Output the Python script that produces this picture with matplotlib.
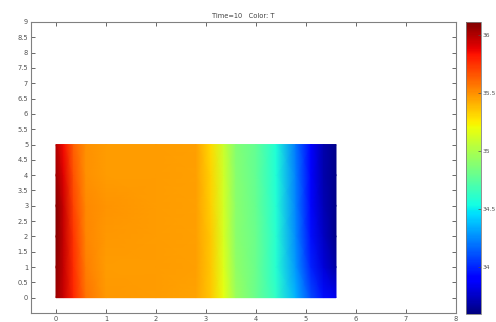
import numpy as np
import matplotlib
matplotlib.use("Agg")
import matplotlib.pyplot as plt

# Field data (temperature T)
x_nodes = [0.0, 0.15, 0.35, 0.6, 1.0, 2.0, 2.8, 3.1, 3.35, 3.6, 4.0, 4.4, 4.8, 5.1, 5.35, 5.6]
y_nodes = [0.0, 1.0, 2.0, 3.0, 4.0, 5.0]
T_rows = [
    [36.05, 35.95, 35.78, 35.58, 35.48, 35.47, 35.45, 35.35, 35.18, 34.95, 34.80, 34.62, 34.35, 34.10, 33.95, 33.85],
    [36.08, 35.96, 35.76, 35.55, 35.47, 35.47, 35.46, 35.35, 35.15, 34.92, 34.80, 34.60, 34.28, 34.00, 33.80, 33.68],
    [36.10, 35.96, 35.74, 35.53, 35.48, 35.47, 35.46, 35.35, 35.13, 34.90, 34.80, 34.60, 34.25, 33.95, 33.75, 33.62],
    [36.10, 35.95, 35.70, 35.52, 35.49, 35.47, 35.46, 35.33, 35.12, 34.90, 34.79, 34.59, 34.23, 33.93, 33.72, 33.62],
    [36.05, 35.90, 35.66, 35.50, 35.47, 35.47, 35.46, 35.32, 35.11, 34.89, 34.78, 34.58, 34.22, 33.92, 33.70, 33.62],
    [36.00, 35.85, 35.62, 35.50, 35.47, 35.47, 35.46, 35.30, 35.10, 34.88, 34.78, 34.58, 34.20, 33.90, 33.70, 33.62],
]
title_text = "Time=10   Color: T"
x_ticks = [0, 1, 2, 3, 4, 5, 6, 7, 8]
y_ticks = [0, 0.5, 1, 1.5, 2, 2.5, 3, 3.5, 4, 4.5, 5, 5.5, 6, 6.5, 7, 7.5, 8, 8.5, 9]
cbar_ticks = [34, 34.5, 35, 35.5, 36]
t_min, t_max = 33.6, 36.11

fig = plt.figure(figsize=(4.96, 3.22), dpi=100)
ax = fig.add_axes([31/496, 9/322, 425/496, 291/322])
X, Y = np.meshgrid(x_nodes, y_nodes)
T = np.array(T_rows)
mesh = ax.pcolormesh(X, Y, T, shading="gouraud", cmap="jet", vmin=t_min, vmax=t_max)
ax.set_xlim(-0.5, 8)
ax.set_ylim(-0.5, 9)
ax.set_xticks(x_ticks)
ax.set_xticklabels([str(v) for v in x_ticks])
ax.set_yticks(y_ticks)
ax.set_yticklabels([("%g" % v) for v in y_ticks])
grey = "#505050"
ax.tick_params(direction="in", length=3, width=0.6, labelsize=4.8, colors=grey,
               top=True, right=True, pad=2)
for s in ax.spines.values():
    s.set_color("#808080")
    s.set_linewidth(0.8)
ax.set_title(title_text, fontsize=4.8, color="#404040", pad=3)

cax = fig.add_axes([466/496, 8/322, 15/496, 292/322])
cb = fig.colorbar(mesh, cax=cax, ticks=cbar_ticks)
cb.ax.set_ylim(t_min, t_max)
cb.ax.set_yticklabels([("%g" % v) for v in cbar_ticks])
cb.ax.tick_params(direction="in", length=2, width=0.5, labelsize=4.3, colors=grey, pad=0.8)
cb.outline.set_edgecolor("#808080")
cb.outline.set_linewidth(0.6)

fig.savefig("out.png", dpi=100)
